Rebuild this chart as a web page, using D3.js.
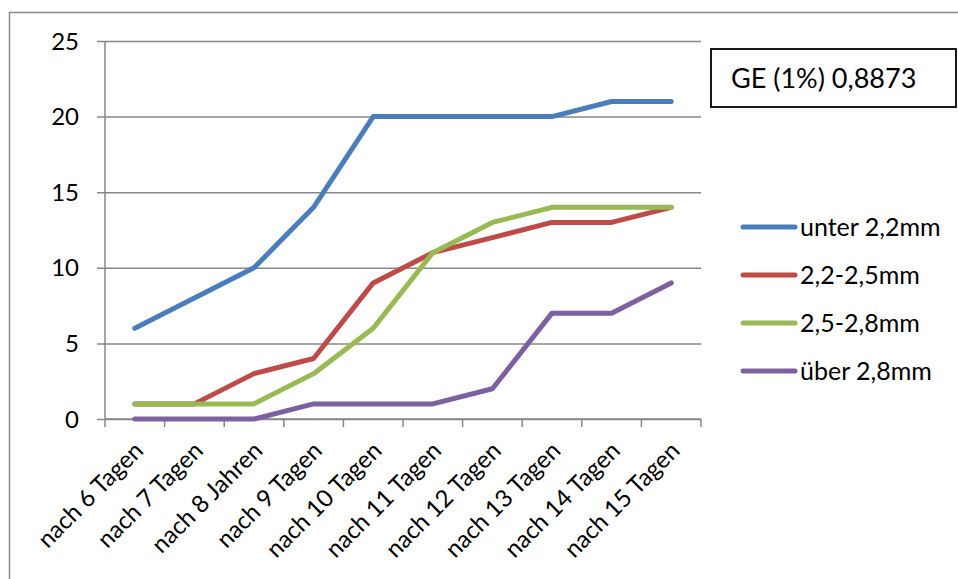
<!DOCTYPE html>
<html>
<head>
<meta charset="utf-8">
<script src="https://cdn.jsdelivr.net/npm/d3@7"></script>
<style>
  html, body { margin: 0; padding: 0; background: #fff; }
  svg { display: block; font-family: Lato, "Open Sans", sans-serif; }
</style>
</head>
<body>
<svg id="chart" width="958" height="579"></svg>
<script>
// Categories along the x axis
const categories = [
  "nach 6 Tagen", "nach 7 Tagen", "nach 8 Jahren", "nach 9 Tagen", "nach 10 Tagen",
  "nach 11 Tagen", "nach 12 Tagen", "nach 13 Tagen", "nach 14 Tagen", "nach 15 Tagen"
];

// Series names and values
const seriesNames = ["unter 2,2mm", "2,2-2,5mm", "2,5-2,8mm", "über 2,8mm"];
const unter22 = [6, 8, 10, 14, 20, 20, 20, 20, 21, 21];
const von22bis25 = [1, 1, 3, 4, 9, 11, 12, 13, 13, 14];
const von25bis28 = [1, 1, 1, 3, 6, 11, 13, 14, 14, 14];
const ueber28 = [0, 0, 0, 1, 1, 1, 2, 7, 7, 9];
const seriesColors = ["#4A7EBB", "#BE4B48", "#98B954", "#7D60A0"];

// Y axis ticks
const yTicks = [0, 5, 10, 15, 20, 25];

// Annotation box text
const noteText = "GE (1%) 0,8873";

const seriesValues = [unter22, von22bis25, von25bis28, ueber28];

const svg = d3.select("#chart");

// Outer chart frame
svg.append("rect")
  .attr("x", 9.5).attr("y", 12.5)
  .attr("width", 970).attr("height", 590)
  .attr("fill", "none").attr("stroke", "#8c8c8c").attr("stroke-width", 1.5);

const plot = { left: 105, right: 701, top: 41, bottom: 419 };

const x = d3.scaleBand().domain(categories).range([plot.left, plot.right]).padding(0);
const y = d3.scaleLinear().domain([0, 25]).range([plot.bottom, plot.top]);
const xc = c => x(c) + x.bandwidth() / 2;

const gridColor = "#878787";

// Horizontal gridlines plus left tick marks
const yAxis = d3.axisLeft(y).tickValues(yTicks).tickSize(plot.right - plot.left + 8).tickFormat("");
svg.append("g")
  .attr("transform", `translate(${plot.right},0)`)
  .call(yAxis)
  .call(g => g.select(".domain").remove())
  .call(g => g.selectAll(".tick line").attr("stroke", gridColor).attr("stroke-width", 1.5));

// Vertical axis line
svg.append("line")
  .attr("x1", plot.left).attr("x2", plot.left)
  .attr("y1", y(25)).attr("y2", plot.bottom)
  .attr("stroke", gridColor).attr("stroke-width", 1.5);

// Y tick labels
svg.append("g").selectAll("text")
  .data(yTicks)
  .join("text")
  .attr("x", 79)
  .attr("y", d => y(d))
  .attr("dy", "0.36em")
  .attr("text-anchor", "end")
  .attr("font-size", 24)
  .attr("fill", "#000")
  .text(d => d);

// X axis with tick marks at category boundaries
const boundaries = categories.map(c => x(c)).concat([plot.right]);
svg.append("line")
  .attr("x1", plot.left).attr("x2", plot.right)
  .attr("y1", plot.bottom).attr("y2", plot.bottom)
  .attr("stroke", gridColor).attr("stroke-width", 1.5);
svg.append("g").selectAll("line")
  .data(boundaries)
  .join("line")
  .attr("x1", d => d).attr("x2", d => d)
  .attr("y1", plot.bottom).attr("y2", plot.bottom + 8)
  .attr("stroke", gridColor).attr("stroke-width", 1.5);

// Rotated category labels
svg.append("g").selectAll("text")
  .data(categories)
  .join("text")
  .attr("transform", c => `translate(${xc(c) + 10},${plot.bottom + 33}) rotate(-45)`)
  .attr("text-anchor", "end")
  .attr("font-size", 24)
  .attr("fill", "#000")
  .text(c => c);

// Series lines
const line = d3.line()
  .x((d, i) => xc(categories[i]))
  .y(d => y(d));

svg.append("g").selectAll("path")
  .data(seriesValues)
  .join("path")
  .attr("d", d => line(d))
  .attr("fill", "none")
  .attr("stroke", (d, i) => seriesColors[i])
  .attr("stroke-width", 5)
  .attr("stroke-linejoin", "round")
  .attr("stroke-linecap", "round");

// Legend
const legendY = [227, 275, 323, 371];
const legend = svg.append("g").selectAll("g")
  .data(seriesNames)
  .join("g")
  .attr("transform", (d, i) => `translate(0,${legendY[i]})`);
legend.append("line")
  .attr("x1", 743).attr("x2", 795)
  .attr("y1", 0).attr("y2", 0)
  .attr("stroke", (d, i) => seriesColors[i])
  .attr("stroke-width", 5)
  .attr("stroke-linecap", "round");
legend.append("text")
  .attr("x", 800)
  .attr("y", 0)
  .attr("dy", "0.36em")
  .attr("font-size", 25)
  .attr("fill", "#000")
  .text(d => d);

// Annotation box
svg.append("rect")
  .attr("x", 711).attr("y", 49)
  .attr("width", 245).attr("height", 58)
  .attr("fill", "#fff").attr("stroke", "#000").attr("stroke-width", 1.8);
svg.append("text")
  .attr("x", 731).attr("y", 88)
  .attr("font-size", 27)
  .attr("fill", "#000")
  .text(noteText);
</script>
</body>
</html>
